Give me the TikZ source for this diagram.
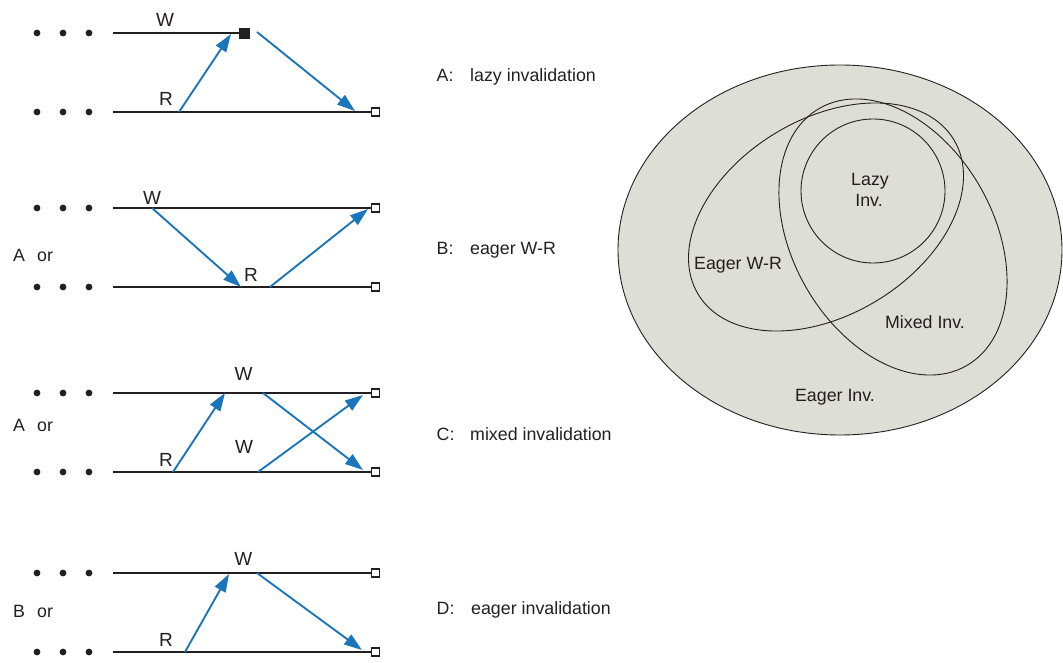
\documentclass[tikz,border=0pt]{standalone}
\usepackage{fontspec}
\setmainfont{Liberation Sans}
\usetikzlibrary{arrows.meta}
\definecolor{msgblue}{RGB}{27,117,188}
\definecolor{venngray}{RGB}{221,222,214}
\definecolor{ink}{RGB}{35,31,32}

\begin{document}
\begin{tikzpicture}[x=1pt,y=1pt,
  lbl/.style={inner sep=0pt, anchor=base, text=ink, font=\fontsize{17.8}{20}\selectfont},
  oplbl/.style={lbl, font=\fontsize{19}{21}\selectfont},
  side/.style={lbl, anchor=base west},
  timeline/.style={draw=ink, line width=1.6pt},
  endbox/.style={draw=ink, line width=1.6pt, fill=white, minimum size=8pt, inner sep=0pt},
  endfull/.style={draw=ink, fill=ink, minimum size=9.5pt, inner sep=0pt},
  msg/.style={draw=msgblue, line width=1.9pt, -{Triangle[length=18pt,width=12pt]}},
  dotmark/.style={circle, fill=ink, inner sep=0pt, minimum size=6.8pt},
  venn/.style={draw=ink, line width=0.9pt}
]
\useasboundingbox (0,0) rectangle (1063,662);

% ---------- the three dots in front of every time line ----------
\foreach \ly/\nm in {629/a1,550/a2,454/b1,375/b2,269/c1,190/c2,89/d1,10/d2}{
  \foreach \dx/\k in {37/1,63/2,89/3}{
    \node[dotmark] (dots\nm\k) at (\dx,\ly) {};
  }
}

% ---------- A: lazy invalidation ----------
\coordinate (aTop) at (113,629);
\coordinate (aBot) at (113,550);
\node[endfull] (aTopEnd) at (244,629) {};
\node[endbox]  (aBotEnd) at (375.5,550) {};
\draw[timeline] (aTop) -- (aTopEnd.west);
\draw[timeline] (aBot) -- (aBotEnd.west);
\node[oplbl] (aW) at (165,635.3) {W};
\node[oplbl] (aR) at (166,556) {R};
\coordinate (aR0) at (179,550);
\coordinate (aW1) at (231,628);
\coordinate (aW0) at (257,630);
\coordinate (aR1) at (355,551);
\draw[msg] (aR0) -- (aW1);
\draw[msg] (aW0) -- (aR1);

% ---------- B: eager W-R ----------
\coordinate (bTop) at (113,454);
\coordinate (bBot) at (113,375);
\node[endbox] (bTopEnd) at (375.5,454) {};
\node[endbox] (bBotEnd) at (375.5,375) {};
\draw[timeline] (bTop) -- (bTopEnd.west);
\draw[timeline] (bBot) -- (bBotEnd.west);
\node[oplbl] (bW) at (152,457) {W};
\node[oplbl] (bR) at (251,380.3) {R};
\node[side] (bOr) at (13,400.3) {\makebox[24pt][l]{A}or};
\coordinate (bW0) at (152,454);
\coordinate (bR1) at (241,375);
\coordinate (bR0) at (270,375);
\coordinate (bW1) at (368,453);
\draw[msg] (bW0) -- (bR1);
\draw[msg] (bR0) -- (bW1);

% ---------- C: mixed invalidation ----------
\coordinate (cTop) at (113,269);
\coordinate (cBot) at (113,190);
\node[endbox] (cTopEnd) at (375.5,269) {};
\node[endbox] (cBotEnd) at (375.5,190) {};
\draw[timeline] (cTop) -- (cTopEnd.west);
\draw[timeline] (cBot) -- (cBotEnd.west);
\node[oplbl] (cW) at (243.7,281.3) {W};
\node[oplbl] (cW2) at (244,208.7) {W};
\node[oplbl] (cR) at (166,196) {R};
\node[side] (cOr) at (13,230.3) {\makebox[24pt][l]{A}or};
\coordinate (cR0) at (173,190);
\coordinate (cW1) at (225,269);
\coordinate (cW0) at (263,269);
\coordinate (cB1) at (363,192);
\coordinate (cW20) at (258,190);
\coordinate (cT1) at (363,267);
\draw[msg] (cR0) -- (cW1);
\draw[msg] (cW0) -- (cB1);
\draw[msg] (cW20) -- (cT1);

% ---------- D: eager invalidation ----------
\coordinate (dTop) at (113,89);
\coordinate (dBot) at (113,10);
\node[endbox] (dTopEnd) at (375.5,89) {};
\node[endbox] (dBotEnd) at (375.5,10) {};
\draw[timeline] (dTop) -- (dTopEnd.west);
\draw[timeline] (dBot) -- (dBotEnd.west);
\node[oplbl] (dW) at (243.3,97) {W};
\node[oplbl] (dR) at (166,15.3) {R};
\node[side] (dOr) at (13,44.7) {\makebox[24pt][l]{B}or};
\coordinate (dR0) at (185,10);
\coordinate (dW1) at (229,88);
\coordinate (dW0) at (257,89);
\coordinate (dR1) at (362,12);
\draw[msg] (dR0) -- (dW1);
\draw[msg] (dW0) -- (dR1);

% ---------- captions ----------
\node[side] (capA) at (436.5,580.3) {\makebox[33.5pt][l]{A:}lazy invalidation};
\node[side] (capB) at (436.5,407.3) {\makebox[33.5pt][l]{B:}eager W-R};
\node[side] (capC) at (436.5,221.3) {\makebox[33.5pt][l]{C:}mixed invalidation};
\node[side] (capD) at (436.5,47.3) {\makebox[34.5pt][l]{D:}eager invalidation};

% ---------- Venn diagram of the classes ----------
\draw[venn, fill=venngray] (840,412) ellipse [x radius=222pt, y radius=185pt];
\draw[venn, rotate around={31.2:(826,445)}] (826,445) ellipse [x radius=149.4pt, y radius=97.9pt];
\draw[venn, rotate around={-60.3:(893,425)}] (893,425) ellipse [x radius=148.2pt, y radius=100.5pt];
\draw[venn] (873,471) circle [radius=72pt];

\node[lbl] (vLazy) at (870,476) {Lazy};
\node[lbl] (vLazyInv) at (869,455.3) {Inv.};
\node[lbl] (vEagerWR) at (738,392.7) {Eager W-R};
\node[lbl] (vMixed) at (925,333.3) {Mixed Inv.};
\node[lbl] (vEager) at (835,260.3) {Eager Inv.};
\end{tikzpicture}
\end{document}
